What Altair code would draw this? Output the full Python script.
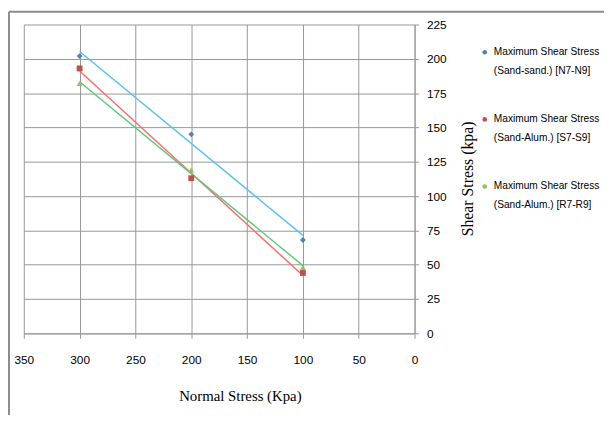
import altair as alt
import pandas as pd

normal_stress = [300, 200, 100]
sand_sand_n = [202, 145, 68]
sand_alum_s = [193, 113, 44]
sand_alum_r = [182, 119, 48]

series_names = [
    "Maximum Shear Stress|(Sand-sand.) [N7-N9]",
    "Maximum Shear Stress|(Sand-Alum.) [S7-S9]",
    "Maximum  Shear Stress|(Sand-Alum.) [R7-R9]",
]
marker_colors = ["#4F81BD", "#C0504D", "#9BBB59"]
trend_colors = ["#55C4EE", "#FF6B6B", "#5CC97E"]
shapes = ["diamond", "square", "triangle-up"]

x_ticks = [0, 50, 100, 150, 200, 250, 300, 350]
y_ticks = [0, 25, 50, 75, 100, 125, 150, 175, 200, 225]

rows = []
for name, vals in zip(series_names, [sand_sand_n, sand_alum_s, sand_alum_r]):
    for xv, yv in zip(normal_stress, vals):
        rows.append({"x": xv, "y": yv, "series": name})
df = pd.DataFrame(rows)

LABEL_FONT = "Liberation Sans, Arial, sans-serif"
TITLE_FONT = "Liberation Serif, Times New Roman, serif"
GRID = "#969696"

x_enc = alt.X(
    "x:Q",
    scale=alt.Scale(domain=[0, 350], reverse=True, nice=False),
    axis=alt.Axis(
        values=x_ticks, grid=True, gridColor=GRID, domainColor=GRID,
        tickColor=GRID, tickSize=5, labelPadding=17, labelFlush=False,
        labelFont=LABEL_FONT, labelFontSize=12, labelColor="#000",
        title="Normal Stress (Kpa)", titleFont=TITLE_FONT, titleFontSize=15,
        titleFontWeight="normal", titleColor="#000", titleX=219, titleY=63,
        titleAlign="center", titleBaseline="middle",
    ),
)
y_enc = alt.Y(
    "y:Q",
    scale=alt.Scale(domain=[0, 225], nice=False),
    axis=alt.Axis(
        orient="right", values=y_ticks, grid=True, gridColor=GRID,
        domainColor=GRID, tickColor=GRID, tickSize=4, labelPadding=8,
        labelFlush=False, labelFont=LABEL_FONT, labelFontSize=12,
        labelColor="#000", labelAlign="left", title="Shear Stress (kpa)",
        titleFont=TITLE_FONT, titleFontSize=16, titleFontWeight="normal",
        titleColor="#000", titleAngle=270, titleX=54, titleY=156,
        titleAlign="center", titleBaseline="middle",
    ),
)

base = alt.Chart(df)

trend = base.transform_regression(
    "x", "y", groupby=["series"]
).mark_line(strokeWidth=1.5).encode(
    x=x_enc,
    y=y_enc,
    stroke=alt.Stroke("series:N", scale=alt.Scale(domain=series_names, range=trend_colors), legend=None),
)

legend = alt.Legend(
    title=None, orient="none", legendX=462, legendY=23, padding=0,
    labelFont=LABEL_FONT, labelFontSize=10.3, labelColor="#000",
    labelExpr="split(datum.label, '|')", labelLimit=400, labelOffset=4,
    labelBaseline="middle", symbolSize=22, rowPadding=38, symbolStrokeWidth=0,
)

points = base.mark_point(filled=True, opacity=1, size=35).encode(
    x=x_enc,
    y=y_enc,
    color=alt.Color("series:N", scale=alt.Scale(domain=series_names, range=marker_colors), legend=legend),
    shape=alt.Shape("series:N", scale=alt.Scale(domain=series_names, range=shapes), legend=legend),
)

frame_df = pd.DataFrame({"a": [0]})
frame_top = alt.Chart(frame_df).mark_rule(color="#8c8c8c", strokeWidth=2).encode(
    x=alt.value(-15), x2=alt.value(600), y=alt.value(-13), y2=alt.value(-13)
)
frame_left = alt.Chart(frame_df).mark_rule(color="#8c8c8c", strokeWidth=2).encode(
    x=alt.value(-15), x2=alt.value(-15), y=alt.value(-13), y2=alt.value(420)
)

chart = alt.layer(trend, points, frame_top, frame_left).resolve_scale(
    color="independent"
).properties(
    width=396, height=313,
    padding={"left": 16, "top": 14, "right": 192, "bottom": 80},
    autosize=alt.AutoSizeParams(type="none"),
).configure(
    background="white",
    style={"guide-label": {"lineHeight": 19}},
).configure_view(stroke=None)

chart.save("out.html", embed_options={"renderer": "svg", "actions": False})
